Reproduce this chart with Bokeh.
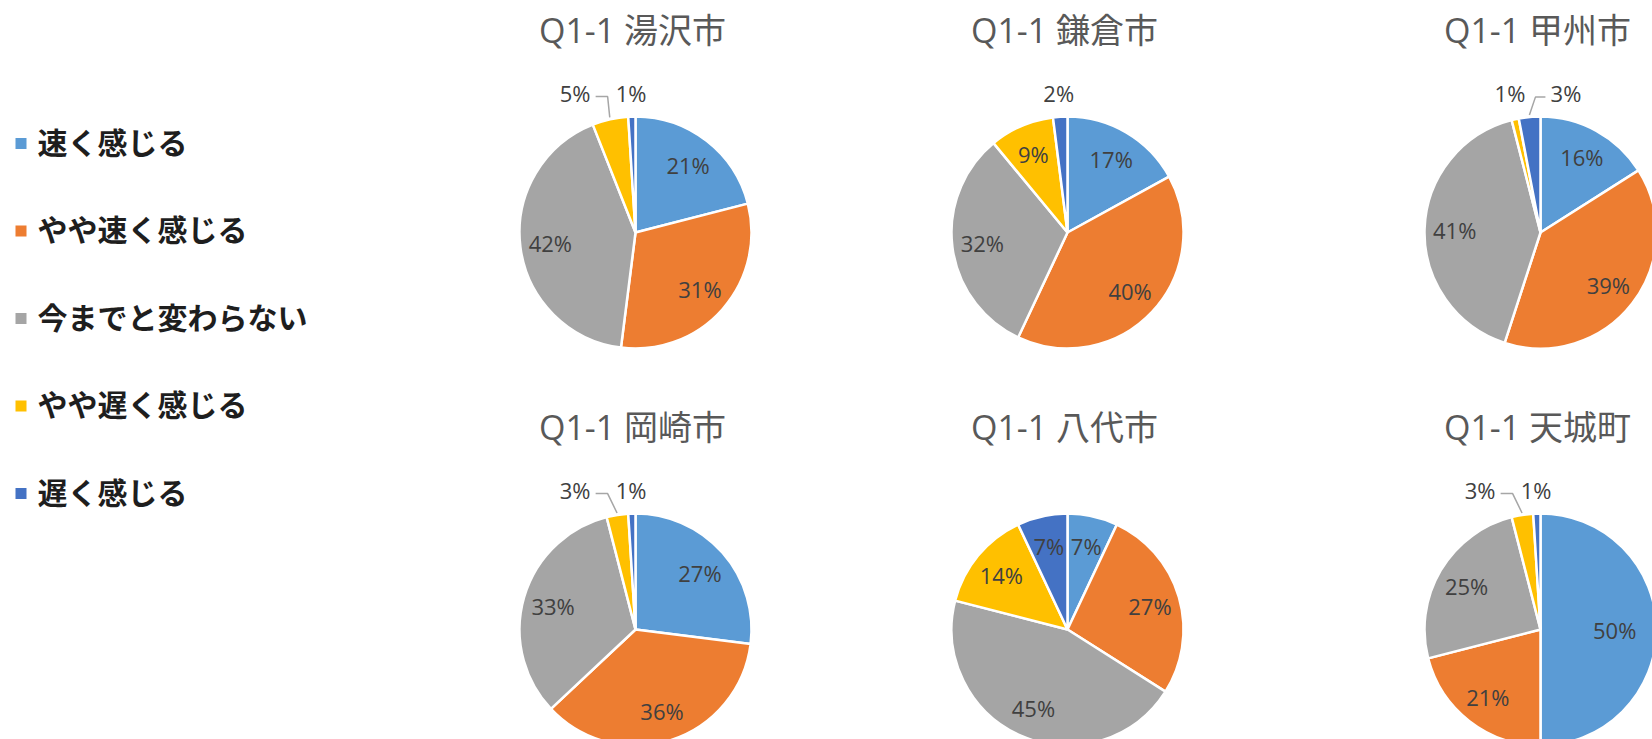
import math
from bokeh.plotting import figure
from bokeh.models import Range1d
from bokeh.embed import file_html
from bokeh.resources import INLINE
from bokeh.core.properties import value

# ---------------- data ----------------
categories = ["速く感じる", "やや速く感じる", "今までと変わらない", "やや遅く感じる", "遅く感じる"]
colors = ["#5B9BD5", "#ED7D31", "#A5A5A5", "#FFC000", "#4472C4"]
titles = ["Q1-1 湯沢市", "Q1-1 鎌倉市", "Q1-1 甲州市", "Q1-1 岡崎市", "Q1-1 八代市", "Q1-1 天城町"]
yuzawa = [21, 31, 42, 5, 1]
kamakura = [17, 40, 32, 9, 2]
koshu = [16, 39, 41, 1, 3]
okazaki = [27, 36, 33, 3, 1]
yatsushiro = [7, 27, 45, 14, 7]
amagi = [50, 21, 25, 3, 1]
series = [yuzawa, kamakura, koshu, okazaki, yatsushiro, amagi]

# ---------------- layout (page pixels) ----------------
W, H = 1652, 739
col_x = [635, 1067, 1540]
row_y = [232, 629]
R = 116
LABEL_SIZE = 22
TITLE_SIZE = 34
LEGEND_SIZE = 30


def fx(X):
    return X


def fy(Y):
    return H - Y


p = figure(width=W, height=H, output_backend="svg", toolbar_location=None,
           x_range=Range1d(0, W), y_range=Range1d(0, H),
           x_axis_type=None, y_axis_type=None, min_border=0,
           outline_line_color=None, background_fill_color="white",
           border_fill_color="white")
p.grid.visible = False

label_font = value("Open Sans")
title_font = value("Open Sans, Noto Sans CJK JP")
legend_font = value("Noto Sans CJK JP")


def text_w(s, size):
    w = 0
    for ch in s:
        w += 0.84 if ch == "%" else 0.572
    return w * size


for k, vals in enumerate(series):
    cx = fx(col_x[k % 3])
    cy = fy(row_y[k // 3])
    total = float(sum(vals))
    fr = [v / total for v in vals]
    c0 = [sum(fr[:i]) for i in range(len(fr))]
    c1 = [c0[i] + fr[i] for i in range(len(fr))]
    starts = [math.pi / 2 - 2 * math.pi * a for a in c0]
    ends = [math.pi / 2 - 2 * math.pi * b for b in c1]
    p.wedge(x=[cx] * len(vals), y=[cy] * len(vals), radius=R,
            start_angle=starts, end_angle=ends, direction="clock",
            fill_color=colors, line_color="white", line_width=2.5)

    # title
    p.text(x=[cx - 3], y=[fy(row_y[k // 3] - 203)], text=[titles[k]],
           text_font=title_font, text_font_size=f"{TITLE_SIZE}px",
           text_color="#595959", text_align="center", text_baseline="middle")

    inside_x, inside_y, inside_t = [], [], []
    outs = []
    for i, v in enumerate(vals):
        th = 2 * math.pi * (c0[i] + fr[i] / 2)
        lab = f"{v}%"
        if v >= 6:
            rho = 0.74 * R
            lx = cx + rho * math.sin(th)
            w = text_w(lab, LABEL_SIZE)
            lx = min(lx, W - 16 - w / 2)
            inside_x.append(lx)
            inside_y.append(cy + rho * math.cos(th))
            inside_t.append(lab)
        else:
            rho = R + 24
            outs.append({"x": cx + rho * math.sin(th), "y": cy + rho * math.cos(th),
                         "th": th, "v": v, "t": lab, "push": 0})
    # resolve collisions among outside labels
    gap = 56
    for j in range(1, len(outs)):
        a, b = outs[j - 1], outs[j]
        if abs(b["x"] - a["x"]) < gap:
            yy = max(a["y"], b["y"])
            a["y"] = b["y"] = yy
            if a["v"] >= b["v"]:
                a["x"] = b["x"] - gap
                a["push"] = -1
            else:
                b["x"] = a["x"] + gap
                b["push"] = 1
    p.text(x=inside_x, y=inside_y, text=inside_t, text_font=label_font,
           text_font_size=f"{LABEL_SIZE}px", text_color="#404040",
           text_align="center", text_baseline="middle")
    if outs:
        p.text(x=[o["x"] for o in outs], y=[o["y"] for o in outs],
               text=[o["t"] for o in outs], text_font=label_font,
               text_font_size=f"{LABEL_SIZE}px", text_color="#404040",
               text_align="center", text_baseline="middle")
    for o in outs:
        if o["push"] == 0:
            continue
        w = text_w(o["t"], LABEL_SIZE)
        ex = cx + (R + 2) * math.sin(o["th"])
        ey = cy + (R + 2) * math.cos(o["th"])
        ly = o["y"] - 4
        if o["push"] < 0:
            xs = [o["x"] + w / 2 + 5, o["x"] + w / 2 + 17, ex]
        else:
            xs = [o["x"] - w / 2 - 5, o["x"] - w / 2 - 15, ex]
        p.line(x=xs, y=[ly, ly, ey], line_color="#A6A6A6", line_width=1.5)

# ---------------- legend ----------------
leg_y = [fy(140 + 87.5 * i) for i in range(len(categories))]
p.scatter(x=[fx(20.5)] * len(categories), y=[fy(143 + 87.5 * i) for i in range(len(categories))],
          marker="square", size=11, fill_color=colors, line_color=None)
p.text(x=[fx(37)] * len(categories), y=leg_y, text=categories,
       text_font=legend_font, text_font_style="bold",
       text_font_size=f"{LEGEND_SIZE}px", text_color="#1e1e1e",
       text_align="left", text_baseline="middle")

open("out.html", "w").write(file_html(p, INLINE))
